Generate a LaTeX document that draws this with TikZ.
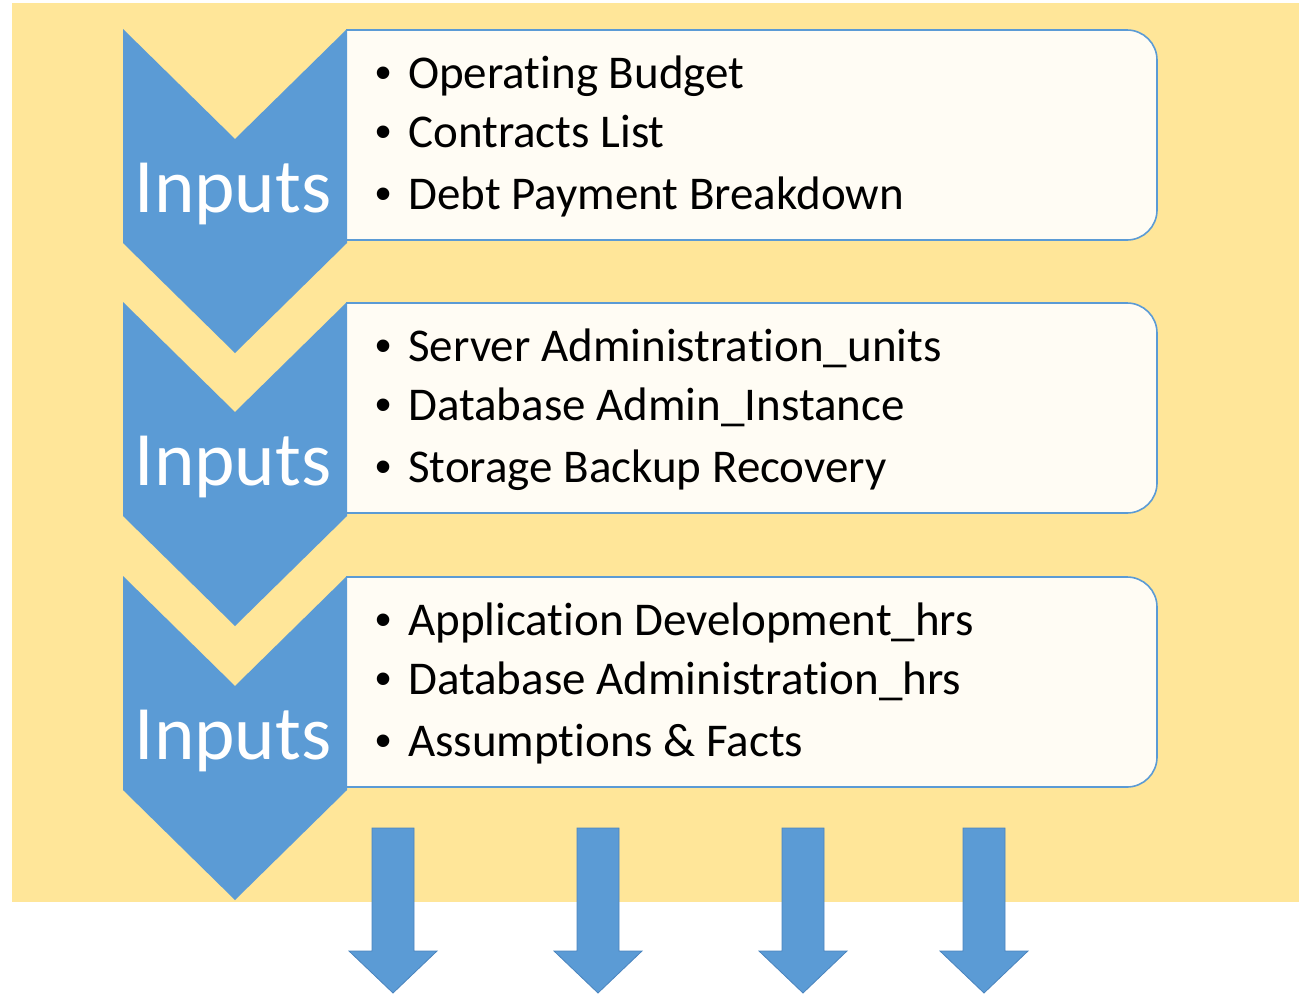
\documentclass[tikz,border=0pt]{standalone}
\usepackage{fontspec}
\setmainfont[Ligatures=NoCommon]{Carlito}
\newfontfamily\bulletfont{Liberation Sans}
\definecolor{bgyellow}{HTML}{FFE699}
\definecolor{chevblue}{HTML}{5B9BD5}
\definecolor{boxfill}{HTML}{FFFCF4}
\definecolor{arrowedge}{HTML}{4A84BE}
\tikzset{
  chevron/.style={fill=chevblue, draw=none},
  listbox/.style={fill=boxfill, draw=chevblue, line width=1.6pt, rounded corners=30pt},
  inlabel/.style={text=white, font=\fontsize{77}{80}\selectfont, anchor=base, inner sep=0pt},
  itemtext/.style={text=black, font=\fontsize{47}{50}\selectfont, anchor=base west, inner sep=0pt},
  bulletdot/.style={text=black, font=\bulletfont\fontsize{46}{50}\selectfont, anchor=base, inner sep=0pt},
  downarrow/.style={fill=chevblue, draw=arrowedge, line width=0.8pt}
}
\begin{document}
\begin{tikzpicture}[x=1pt,y=-1pt]
\useasboundingbox (0,0) rectangle (1299,994);
\fill[bgyellow] (12,3) rectangle (1299,902);

% three stages
\foreach \k/\dy in {1/0,2/273,3/547}{
  \begin{scope}[yshift=-\dy pt]
    \path[listbox] (346,30) -- (1157,30) -- (1157,240) -- (346,240);
    \fill[chevron] (123,29) -- (235,139) -- (347,29) -- (347,243) -- (235,353) -- (123,243) -- cycle;
    \node[inlabel] (in\k) at (233,212) {Inputs};
  \end{scope}
}

% bullets
\foreach \k/\dy in {1/0,2/273,3/547}{
  \foreach \j/\ly in {1/0,2/59,3/121}{
    \node[bulletdot] (b\k\j) at (384,{88+\dy+\ly}) {•};
  }
}

\node[itemtext] (t11) at (408,88) {Operating Budget};
\node[itemtext] (t12) at (408,147) {Contracts List};
\node[itemtext] (t13) at (408,209) {Debt Payment Breakdown};

\node[itemtext] (t21) at (408,361) {Server Administration\_units};
\node[itemtext] (t22) at (408,420) {Database Admin\_Instance};
\node[itemtext] (t23) at (408,482) {Storage Backup Recovery};

\node[itemtext] (t31) at (408,635) {Application Development\_hrs};
\node[itemtext] (t32) at (408,694) {Database Administration\_hrs};
\node[itemtext] (t33) at (408,756) {Assumptions \& Facts};

% output arrows
\foreach \c in {393,598,803,984}{
  \path[downarrow] (\c-21,828) -- (\c+21,828) -- (\c+21,951) -- (\c+44,951) -- (\c,993) -- (\c-44,951) -- (\c-21,951) -- cycle;
}
\end{tikzpicture}
\end{document}
